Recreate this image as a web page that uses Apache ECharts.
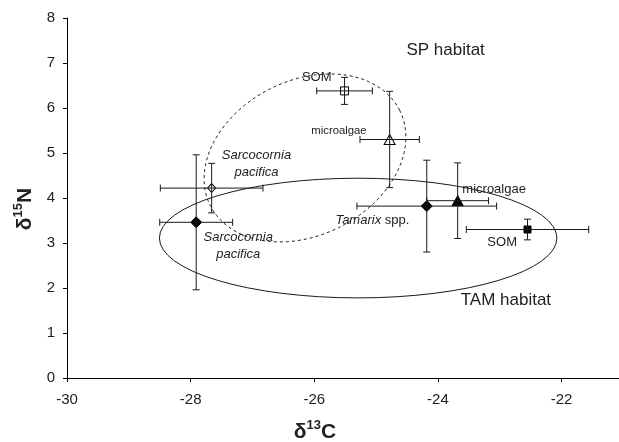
<!DOCTYPE html>
<html><head><meta charset="utf-8">
<script src="https://cdn.jsdelivr.net/npm/echarts@6/dist/echarts.min.js"></script>
<style>html,body{margin:0;padding:0;background:#fff}#c{width:619px;height:442px}</style>
</head><body><div id="c"></div>
<script>
// ---- data ----
const names   = ['SOM SP', 'microalgae SP', 'Sarcocornia SP', 'Sarcocornia TAM', 'Tamarix TAM', 'microalgae TAM', 'SOM TAM'];
const d13C    = [-25.51, -24.78, -27.66, -27.91, -24.18, -23.68, -22.55];
const d15N    = [6.38, 5.30, 4.22, 3.46, 3.82, 3.94, 3.30];
const sdC     = [0.45, 0.48, 0.83, 0.59, 1.13, 0.50, 0.99];
const sdN     = [0.30, 1.07, 0.55, 1.50, 1.02, 0.84, 0.23];
const xTicks  = [-30, -28, -26, -24, -22];
const yTicks  = [0, 1, 2, 3, 4, 5, 6, 7, 8];
// habitat ellipses: centre (d13C, d15N), semi-axes (in x units, y units), tilt (deg)
const ellCx   = [-26.15, -25.29];
const ellCy   = [4.89, 3.11];
const ellA    = [1.715, 3.215];
const ellB    = [1.72, 1.33];
const ellRot  = [26.7, 0];
const ellDash = [true, false];
// annotations (text, d13C, d15N)
const annText = ['SOM', 'microalgae', '{i|Sarcocornia}\n{i|pacifica}', '{i|Sarcocornia}\n{i|pacifica}', '{i|Tamarix} spp.', 'microalgae', 'SOM', 'SP habitat', 'TAM habitat'];
const annX    = [-25.96, -25.60, -26.935, -27.23, -25.06, -23.09, -22.96, -23.875, -22.90];
const annY    = [6.68, 5.49, 4.76, 2.93, 3.51, 4.20, 3.02, 7.29, 1.73];
const annSize = [13, 11.3, 13, 13, 13, 13, 13, 17, 17];

const FONT = '"Liberation Sans", Arial, sans-serif';
const INK = '#1a1a1a';

const chart = echarts.init(document.getElementById('c'));

function pts(idx){ return idx.map(i => [d13C[i], d15N[i]]); }

const markerDefs = [
  {idx:[0], symbol:'rect', size:8, fill:'#fff'},
  {idx:[1], symbol:'triangle', size:[11,10], fill:'#fff'},
  {idx:[2], symbol:'diamond', size:[8,9], fill:'#fff'},
  {idx:[3,4], symbol:'diamond', size:[11,11], fill:'#000'},
  {idx:[5], symbol:'triangle', size:[11,10], fill:'#000'},
  {idx:[6], symbol:'rect', size:7, fill:'#000'}
];

const series = [];

// ellipses
series.push({
  type:'custom', z:1, silent:true,
  data: ellCx.map((c,i)=>[c, ellCy[i], ellA[i], ellB[i], ellRot[i], ellDash[i]?1:0]),
  renderItem(params, api){
    const c = api.coord([api.value(0), api.value(1)]);
    const sx = api.size([1,0])[0], sy = api.size([0,1])[1];
    const a = api.value(2)*sx, b = api.value(3)*sy;
    const th = api.value(4)*Math.PI/180;
    const x1 = c[0] + a*Math.cos(th), y1 = c[1] - a*Math.sin(th);
    const x2 = c[0] - a*Math.cos(th), y2 = c[1] + a*Math.sin(th);
    const r = -api.value(4);
    const d = `M ${x1} ${y1} A ${a} ${b} ${r} 1 0 ${x2} ${y2} A ${a} ${b} ${r} 1 0 ${x1} ${y1} Z`;
    return {type:'path', shape:{pathData:d}, style:{fill:null, stroke:INK, lineWidth:1, lineDash: api.value(5)?[3,3]:null}};
  }
});

// markers
markerDefs.forEach(m => {
  series.push({
    type:'scatter', z:3, symbol:m.symbol, symbolSize:m.size,
    itemStyle:{color:m.fill, borderColor:'#000', borderWidth:1, opacity:1},
    data: pts(m.idx)
  });
});

// error bars
series.push({
  type:'custom', z:4, silent:true,
  data: d13C.map((x,i)=>[x, d15N[i], sdC[i], sdN[i]]),
  renderItem(params, api){
    const x = api.value(0), y = api.value(1), ex = api.value(2), ey = api.value(3);
    const l = api.coord([x-ex, y]), r = api.coord([x+ex, y]);
    const t = api.coord([x, y+ey]), b = api.coord([x, y-ey]);
    const cap = 3.5;
    const st = {stroke:INK, lineWidth:1};
    const L = (x1,y1,x2,y2) => ({type:'line', shape:{x1,y1,x2,y2}, style:st});
    return {type:'group', children:[
      L(l[0], l[1], r[0], r[1]),
      L(l[0], l[1]-cap, l[0], l[1]+cap),
      L(r[0], r[1]-cap, r[0], r[1]+cap),
      L(t[0], t[1], b[0], b[1]),
      L(t[0]-cap, t[1], t[0]+cap, t[1]),
      L(b[0]-cap, b[1], b[0]+cap, b[1])
    ]};
  }
});

// annotations
series.push({
  type:'custom', z:5, silent:true,
  data: annX.map((x,i)=>[x, annY[i], i]),
  renderItem(params, api){
    const i = api.value(2);
    const p = api.coord([api.value(0), api.value(1)]);
    const fs = annSize[i];
    return {type:'text', x:p[0], y:p[1], style:{
      text: annText[i], fontFamily:FONT, fontSize:fs, fill:'#222',
      align:'center', verticalAlign:'middle', lineHeight: 17,
      rich:{ i:{fontStyle:'italic', fontFamily:FONT, fontSize:fs, fill:'#222', lineHeight: 17} }
    }};
  }
});

const titleRich = {
  d:{fontFamily:FONT, fontSize:21, fontWeight:'bold', fill:'#222', color:'#222', verticalAlign:'bottom', lineHeight:24},
  s:{fontFamily:FONT, fontSize:13, fontWeight:'bold', fill:'#222', color:'#222', verticalAlign:'top', lineHeight:24, padding:[0,0,9,0]}
};

chart.setOption({
  animation:false,
  backgroundColor:'#fff',
  grid:{left:67, right:0, top:18, bottom:64},
  xAxis:{
    type:'value', min:xTicks[0], max:-21.07, interval:xTicks[1]-xTicks[0],
    axisLine:{lineStyle:{color:'#000', width:1}},
    axisTick:{show:true, length:4, lineStyle:{color:'#000'}},
    splitLine:{show:false},
    axisLabel:{showMaxLabel:false, color:'#222', fontFamily:FONT, fontSize:15, margin:14}
  },
  yAxis:{
    type:'value', min:yTicks[0], max:yTicks[yTicks.length-1], interval:1,
    axisLine:{show:true, lineStyle:{color:'#000', width:1}},
    axisTick:{show:true, length:4, lineStyle:{color:'#000'}},
    splitLine:{show:false},
    axisLabel:{color:'#222', fontFamily:FONT, fontSize:15, margin:12}
  },
  graphic:[
    {type:'text', x:315, y:431, z:10, style:{text:'{d|δ}{s|13}{d|C}', rich:titleRich, align:'center', verticalAlign:'middle'}},
    {type:'text', x:24, y:209, rotation:Math.PI/2, z:10, style:{text:'{d|δ}{s|15}{d|N}', rich:titleRich, align:'center', verticalAlign:'middle'}}
  ],
  series
});
</script></body></html>
